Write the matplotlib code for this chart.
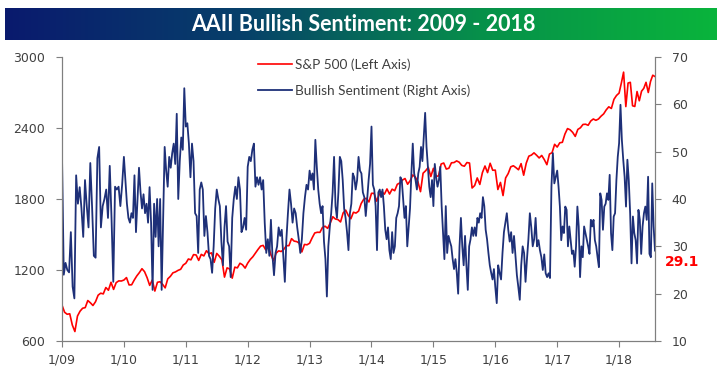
import numpy as np
import matplotlib
matplotlib.use('Agg')
import matplotlib.pyplot as plt
from matplotlib.colors import LinearSegmentedColormap

# x axis: one tick per January
tick_years = [2009, 2010, 2011, 2012, 2013, 2014, 2015, 2016, 2017, 2018]
tick_labels = ['1/09', '1/10', '1/11', '1/12', '1/13', '1/14', '1/15', '1/16', '1/17', '1/18']
last_date = 2018.58  # last weekly reading (early Aug 2018)
last_bull = 29.1

# AAII bullish % (roughly weekly)
bull_2009 = [49, 24, 26.5, 25, 24.5, 33, 21.5, 19, 45, 39, 42.5, 38, 32, 44, 38.5, 34, 47.6, 38.4,
             28, 27.6, 48.6, 51, 34, 38.5, 40, 42, 36, 47, 36, 22.5, 42.6, 42, 42.6, 38.5, 43]
bull_2010 = [48.9, 44, 39, 36, 35, 37, 36, 45, 33, 40, 46.6, 41.5, 38, 41, 37, 39, 35, 42.5, 35,
             20.8, 39, 32, 40, 30, 40, 20.8, 36, 51, 46, 42.6, 48.9, 46.6, 49.7, 51.7, 47.4, 58, 40,
             48, 53, 50.4, 63.4]
bull_2011 = [55.3, 56, 51.7, 44.6, 51.7, 48, 37, 36.4, 28.6, 42, 43.5, 42, 32.2, 36.4, 33, 28, 27.3,
             24.4, 30, 38, 42, 40, 38.5, 31, 26, 34, 38.5, 31, 30, 23.5, 36, 40, 42.6, 40, 44.6, 42,
             33, 34, 36, 33.5]
bull_2012 = [46.8, 48.9, 48, 50.4, 51.7, 42.6, 44.6, 43, 44.6, 42, 44, 35, 28.6, 31.5, 28, 35.6, 28,
             23.9, 28.6, 30, 34, 32.2, 33.5, 28, 22.5, 31.5, 37, 42, 39, 35, 38, 37, 34, 31.5, 28.6,
             31.5, 37, 40.4, 43, 42]
bull_2013 = [46, 44, 45.4, 42, 52.5, 46.8, 42, 39, 37, 38.5, 31, 27.3, 19.4, 30, 34, 37, 41.4, 48.9,
             38.5, 36, 41.4, 48.9, 48, 44, 38, 36, 33, 29.2, 37, 39, 45.4, 44.6, 42, 44, 48.9, 46,
             45.4, 41.4, 40.4, 36.4, 40, 44, 47.4]
bull_2014 = [55.3, 43, 42, 38.5, 29.2, 41.4, 42, 40.4, 42, 38.5, 33.5, 31.5, 34, 29.2, 27.3, 33, 28.6,
             30, 36, 37, 38.5, 44.6, 44, 40, 36, 38.5, 30, 34, 38, 45.4, 51.7, 45.4, 44, 42, 45.4,
             46.8, 51, 48, 53.3, 58.2, 51, 46.8, 42.6, 40.4, 44]
bull_2015 = [38.5, 47.4, 44.6, 42.6, 44, 46.8, 38.5, 33, 27.3, 38.5, 28.6, 32.2, 31, 30, 27.3, 25.2,
             27.3, 24.4, 20, 30, 36, 30, 26, 32.2, 26, 20.8, 30, 31.5, 34, 32.2, 34, 32.2, 36, 35, 37,
             36, 40.4, 38.5, 33.5, 31.5, 28.6, 26, 24.4, 23, 25.2]
bull_2016 = [21.4, 18, 26, 24.4, 23, 28.6, 33, 35, 37, 33.5, 31, 33, 28.6, 32.2, 28, 23.9, 21.4, 18.7,
             26, 30, 28.6, 22.5, 27.3, 31.5, 37, 34, 30, 31.5, 36, 30, 31.3, 29.2, 27.7, 25, 28.3,
             24.3, 23.5, 24.3, 23.3, 42.6, 49.7, 43.3, 44.7]
bull_2017 = [46, 42.6, 38.4, 31.3, 34.2, 32.8, 38.4, 37.7, 30, 34.2, 31.3, 28.4, 29.1, 25.7, 30, 38.4,
             34.2, 23.5, 30, 27.7, 34.2, 32.8, 31.3, 30, 28.4, 35.6, 34.2, 35.6, 31.3, 30, 27.7, 25.6,
             41.2, 39.8, 33.5, 38.4, 39, 41.2, 39.8, 45.1, 32.8, 29.2, 36.3, 37, 44, 48.9]
bull_2018 = [51.8, 59.9, 52.5, 48.3, 44.7, 38.4, 48.3, 44, 37, 26.4, 36.3, 32.8, 31.3, 26.4, 37.7,
             35.6, 28.4, 34.2, 37, 38.4, 35.6, 44.7, 28.4, 27.7, 43.3, 34.2, last_bull]

# S&P 500, roughly twice a month
sp_2009 = [903, 843, 826, 830, 735, 680, 811, 852, 877, 882, 942, 923, 900, 932, 987, 1004, 998, 1052,
           1029, 1096, 1036, 1093, 1108, 1107]
sp_2010 = [1115, 1136, 1074, 1075, 1115, 1150, 1178, 1211, 1186, 1135, 1070, 1115, 1022, 1096, 1101,
           1079, 1049, 1125, 1146, 1176, 1184, 1197, 1206, 1242]
sp_2011 = [1257, 1293, 1286, 1330, 1327, 1281, 1332, 1319, 1363, 1337, 1345, 1265, 1340, 1316, 1286,
           1140, 1218, 1209, 1131, 1224, 1218, 1257, 1244, 1216]
sp_2012 = [1258, 1289, 1312, 1343, 1374, 1402, 1408, 1370, 1405, 1330, 1278, 1342, 1362, 1356, 1375,
           1405, 1406, 1465, 1444, 1440, 1427, 1353, 1416, 1413]
sp_2013 = [1426, 1472, 1513, 1519, 1518, 1560, 1570, 1552, 1597, 1650, 1631, 1626, 1606, 1682, 1706,
           1661, 1633, 1688, 1681, 1698, 1762, 1798, 1806, 1775]
sp_2014 = [1848, 1848, 1782, 1838, 1859, 1841, 1885, 1842, 1883, 1870, 1924, 1936, 1960, 1973, 1925,
           1955, 2003, 1985, 1946, 1862, 2018, 2039, 2067, 1990]
sp_2015 = [2059, 1992, 1995, 2096, 2104, 2053, 2060, 2106, 2108, 2122, 2111, 2084, 2077, 2108, 2104,
           1893, 1914, 1978, 1923, 2023, 2079, 2023, 2102, 2043]
sp_2016 = [2044, 1880, 1940, 1829, 1978, 2015, 2072, 2081, 2065, 2047, 2099, 2001, 2103, 2162, 2171,
           2190, 2170, 2147, 2168, 2133, 2090, 2180, 2191, 2262]
sp_2017 = [2239, 2275, 2279, 2349, 2395, 2385, 2363, 2329, 2388, 2402, 2430, 2432, 2423, 2459, 2476,
           2465, 2476, 2500, 2519, 2553, 2579, 2565, 2642, 2675]
sp_2018 = [2695, 2780, 2872, 2581, 2780, 2786, 2588, 2582, 2708, 2630, 2711, 2735, 2786, 2700, 2793,
           2846, 2835]

bull_years = [bull_2009, bull_2010, bull_2011, bull_2012, bull_2013, bull_2014, bull_2015, bull_2016,
              bull_2017, bull_2018]
sp_years = [sp_2009, sp_2010, sp_2011, sp_2012, sp_2013, sp_2014, sp_2015, sp_2016, sp_2017, sp_2018]


def join_years(chunks):
    xs, ys = [], []
    for yr, vals in zip(tick_years, chunks):
        n = len(vals)
        if yr == tick_years[-1]:
            x = np.linspace(yr, last_date, n)
        else:
            x = yr + np.arange(n) / n
        xs.append(x)
        ys.extend(vals)
    return np.concatenate(xs), np.array(ys)


sp_x, sp_y = join_years(sp_years)
bull_x, bull_y = join_years(bull_years)

red = '#ff0000'
navy = '#1e3078'
gray = '#7f7f7f'
txt = '#404040'

fig = plt.figure(figsize=(7.22, 3.77), dpi=100)

# gradient title bar
tax = fig.add_axes([5 / 722, 1 - 40 / 377, 712 / 722, 32 / 377])
cmap = LinearSegmentedColormap.from_list('bar', ['#0a1a6e', '#07406a', '#06904a', '#0ab43c'])
tax.imshow(np.linspace(0, 1, 256).reshape(1, -1), cmap=cmap, aspect='auto', extent=[0, 1, 0, 1])
tax.set_axis_off()
tax.text(0.503, 0.47, 'AAII Bullish Sentiment: 2009 - 2018', color='white', fontsize=15.5,
         fontweight='bold', ha='center', va='center', family=['Lato', 'DejaVu Sans'])

ax = fig.add_axes([62 / 722, 1 - 341 / 377, 593 / 722, 284 / 377])
ax2 = ax.twinx()

l1, = ax.plot(sp_x, sp_y, color=red, lw=1.2, label='S&P 500 (Left Axis)')
l2, = ax2.plot(bull_x, bull_y, color=navy, lw=1.3, label='Bullish Sentiment (Right Axis)')

ax.set_xlim(tick_years[0], last_date)
ax.set_ylim(600, 3000)
ax.set_yticks([600, 1200, 1800, 2400, 3000])
ax2.set_ylim(10, 70)
ax2.set_yticks([10, 20, 30, 40, 50, 60, 70])
ax.set_xticks(tick_years)
ax.set_xticklabels(tick_labels)

for a in (ax, ax2):
    a.spines['top'].set_visible(False)
    for s in ('left', 'right', 'bottom'):
        a.spines[s].set_color(gray)
    a.tick_params(colors=gray, labelcolor=txt, labelsize=9, length=4)
ax.tick_params(axis='y', pad=8)
ax2.tick_params(axis='y', pad=8)
ax.tick_params(axis='x', pad=5)

ax2.annotate(f'{last_bull}', xy=(1, last_bull), xycoords=('axes fraction', 'data'),
             xytext=(7, -8), textcoords='offset points', color=red, fontsize=10,
             fontweight='bold', va='center', ha='left')

fig.legend(handles=[l1, l2], loc='upper left', bbox_to_anchor=(258 / 722, 1 - 58 / 377),
           frameon=False, borderpad=0, borderaxespad=0, handlelength=2.5, handletextpad=0.25,
           labelspacing=1.0, prop={'family': 'Lato', 'size': 9.8}, labelcolor=txt)

fig.savefig('out.png', dpi=100)
